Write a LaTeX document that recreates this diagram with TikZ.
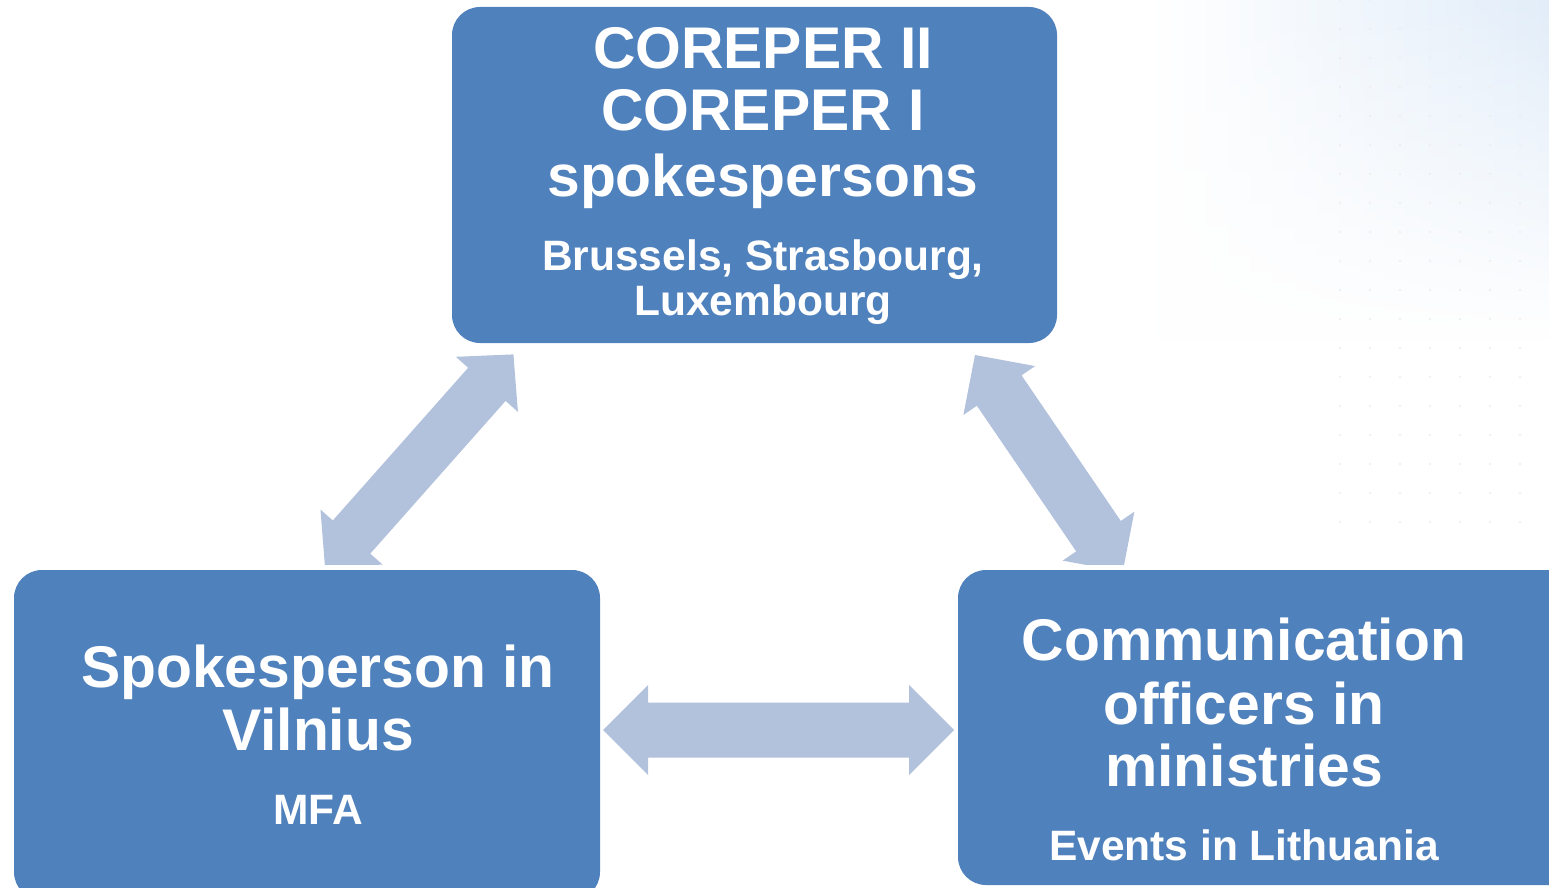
\documentclass[tikz,border=0pt]{standalone}
\usepackage{fontspec}
\setmainfont{Liberation Sans}
\usetikzlibrary{calc,fadings}
\definecolor{boxblue}{HTML}{4F81BD}
\definecolor{arrowblue}{HTML}{B2C1DC}
\definecolor{bgblue}{HTML}{E2EDF9}
\tikzset{
  box/.style={fill=boxblue, draw=none, rounded corners=28pt},
  big/.style={text=white, font=\bfseries\fontsize{58.8}{63}\selectfont, anchor=base, inner sep=0pt},
  small/.style={text=white, font=\bfseries\fontsize{42.5}{45}\selectfont, anchor=base, inner sep=0pt},
  arr/.style={fill=arrowblue, draw=none},
}
\newcommand\blockarrow[5]{%
  \coordinate (q1) at ($(#1)!#3!(#2)$);
  \coordinate (q2) at ($(#2)!#3!(#1)$);
  \fill[arr] (#1)
    -- ($(q1)!#4!90:(#2)$) -- ($(q1)!#5!90:(#2)$)
    -- ($(q2)!#5!-90:(#1)$) -- ($(q2)!#4!-90:(#1)$)
    -- (#2)
    -- ($(q2)!#4!90:(#1)$) -- ($(q2)!#5!90:(#1)$)
    -- ($(q1)!#5!-90:(#2)$) -- ($(q1)!#4!-90:(#2)$)
    -- cycle;
}
\begin{document}
\begin{tikzpicture}[x=1pt,y=-1pt]
\useasboundingbox (0,0) rectangle (1549,888);
\fill[white] (0,0) rectangle (1549,888);
% faint background decoration
\shade[left color=white, right color=bgblue, path fading=south] (1150,0) rectangle (1549,340);
\foreach \yy in {0,29,...,550}{
  \foreach \xx in {1340,1370,...,1530}{
    \fill[gray!14] (\xx,\yy) circle (1.2);
  }
}
% boxes
\fill[box] (452,7) rectangle (1057,343);
\fill[box] (14,570) rectangle (600,900);
\fill[box] (958,570) rectangle (1580,885);
% arrows
\coordinate (la) at (325,567);
\coordinate (lb) at (513.4,354.4);
\coordinate (ra) at (975,355);
\coordinate (rb) at (1122.7,571.7);
\coordinate (ha) at (603,730);
\coordinate (hb) at (954,730);
\begin{scope}
\clip (0,0) rectangle (1549,564);
\blockarrow{la}{lb}{40pt}{41.5pt}{25pt}
\blockarrow{ra}{rb}{43pt}{43.4pt}{27pt}
\end{scope}
\blockarrow{ha}{hb}{45pt}{45pt}{27.5pt}
% texts top
\node[big] (t1) at (763,69) {COREPER II};
\node[big] (t2) at (763,131) {COREPER I};
\node[big] (t3) at (763,196) {spokespersons};
\node[small] (t4) at (763,270) {Brussels, Strasbourg,};
\node[small] (t5) at (763,315) {Luxembourg};
% texts left
\node[big] (l1) at (318,687) {Spokesperson in};
\node[big] (l2) at (318,750) {Vilnius};
\node[small] (l3) at (318,824) {MFA};
% texts right
\node[big] (r1) at (1244,660) {Communication};
\node[big] (r2) at (1244,724) {officers in};
\node[big] (r3) at (1244,786) {ministries};
\node[small] (r4) at (1244,860) {Events in Lithuania};
\end{tikzpicture}
\end{document}
